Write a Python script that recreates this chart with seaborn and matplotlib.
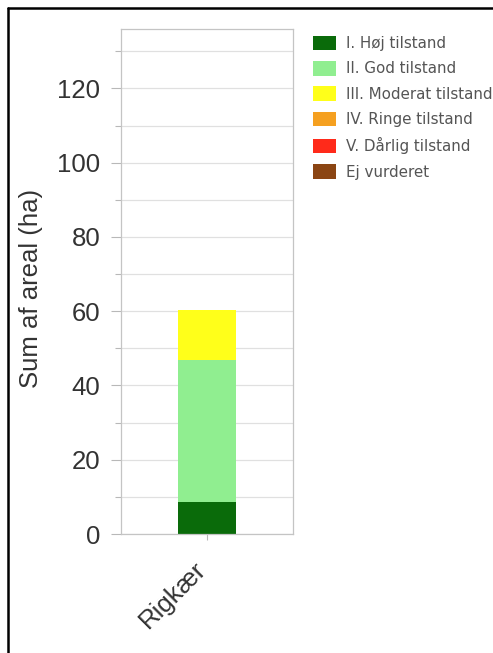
import numpy as np
import pandas as pd
import matplotlib
matplotlib.use("Agg")
import matplotlib.pyplot as plt
import matplotlib.transforms as mtransforms
from matplotlib.patches import Patch
from matplotlib.lines import Line2D
from matplotlib.ticker import MultipleLocator
import seaborn as sns

# Data
naturtype = ["Rigkær"]
tilstand = ["I. Høj tilstand", "II. God tilstand", "III. Moderat tilstand",
            "IV. Ringe tilstand", "V. Dårlig tilstand", "Ej vurderet"]
areal = [8.7, 38.1, 13.5, 0.0, 0.0, 0.0]
farver = ["#0a6b0a", "#90ee90", "#ffff1a", "#f5a020", "#ff2a1a", "#8b4513"]
y_ticks = [0, 20, 40, 60, 80, 100, 120]

sns.set_style("white")
plt.rcParams["font.family"] = ["Liberation Sans", "DejaVu Sans"]

fig = plt.figure(figsize=(4.93, 6.53), dpi=100)
ax = fig.add_axes([121 / 493, 1 - 534 / 653, (293 - 121) / 493, (534 - 29) / 653])

df = pd.DataFrame({"naturtype": naturtype * len(tilstand),
                   "tilstand": tilstand,
                   "areal": areal})
df["kumuleret"] = np.cumsum(df["areal"].values)

# Stacked bar: draw cumulative totals from the top layer down
for i in reversed(range(len(tilstand))):
    row = df.iloc[[i]]
    if row["areal"].iloc[0] <= 0:
        continue
    sns.barplot(data=row, x="naturtype", y="kumuleret", color=farver[i],
                width=0.343, saturation=1, ax=ax, zorder=2,
                edgecolor="none", linewidth=0)

ax.set_xlim(-0.5, 0.5)
ax.set_ylim(0, 136)
ax.set_yticks(y_ticks)
ax.yaxis.set_minor_locator(MultipleLocator(10))
ax.set_axisbelow(True)
ax.yaxis.grid(True, which="both", color="#e0e0e0", lw=0.9)

for s in ax.spines.values():
    s.set_color("#c4c4c4")
    s.set_linewidth(0.9)

ax.tick_params(axis="y", which="major", length=7, width=0.8, color="#b8b8b8",
               labelsize=18.5, labelcolor="#333333", pad=8, left=True)
ax.tick_params(axis="y", which="minor", length=4, width=0.8, color="#b8b8b8", left=True)
ax.tick_params(axis="x", which="major", length=4, width=0.8, color="#b8b8b8",
               labelsize=18.5, labelcolor="#333333", pad=4, bottom=True)
offset = mtransforms.ScaledTranslation(-13 / 100, -12 / 100, fig.dpi_scale_trans)
for lbl in ax.get_xticklabels():
    lbl.set_rotation(45)
    lbl.set_ha("right")
    lbl.set_rotation_mode("anchor")
    lbl.set_transform(lbl.get_transform() + offset)

ax.set_xlabel("")
ax.set_ylabel("Sum af areal (ha)", fontsize=18.5, color="#333333", labelpad=10, y=0.487)

handles = [Patch(facecolor=c, edgecolor="none") for c in farver]
fig.legend(handles, tilstand, loc="upper left",
           bbox_to_anchor=(313 / 493, 1 - 35.5 / 653),
           frameon=False, prop={"family": "DejaVu Sans", "size": 10.9},
           labelcolor="#555555", handlelength=1.5, handleheight=1.11,
           labelspacing=0.66, handletextpad=0.65, borderpad=0, borderaxespad=0)

# Outer frame lines (left and top)
fig.add_artist(Line2D([7.5 / 493, 7.5 / 493], [-0.01, 1 - 7.5 / 653],
                      color="black", lw=1.8, transform=fig.transFigure))
fig.add_artist(Line2D([7.5 / 493, 1.01], [1 - 7.5 / 653, 1 - 7.5 / 653],
                      color="black", lw=1.8, transform=fig.transFigure))

fig.savefig("out.png", dpi=100, facecolor="white")
